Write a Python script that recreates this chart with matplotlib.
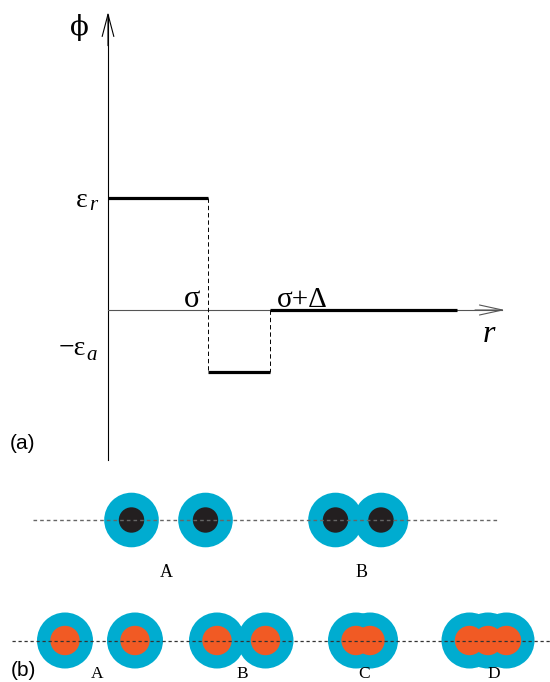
import matplotlib
matplotlib.use("Agg")
import matplotlib.pyplot as plt
from matplotlib.patches import Circle

# ---- data: step potential (panel a) ----
sigma = 1.0
delta = 0.62
eps_r = 1.0
eps_a = 0.55
r_end = 3.49          # end of drawn potential
r_axis_max = 3.97     # x-axis arrow tip
phi_axis_min = -1.34
phi_axis_max = 2.66

# ---- data: particle schematics (panel b), pixel units ----
row1_y = 520
row1_centers = [131.5, 205.5, 335.5, 381]
row1_outer, row1_inner = 27.3, 12.7
row1_labels = ["A", "B"]
row1_label_x = [166, 362]

row2_y = 640.5
row2_centers = [65, 135, 217, 265.5, 356, 370, 469.5, 488, 506.5]
row2_outer, row2_inner = 28, 14.7
row2_labels = ["A", "B", "C", "D"]
row2_label_x = [97, 242, 364, 494]

CYAN = "#00acd0"
BLACK = "#231f20"
ORANGE = "#f15a24"
SERIF = ["Liberation Serif", "DejaVu Serif"]
SANS = ["Liberation Sans", "DejaVu Sans"]

fig = plt.figure(figsize=(5.5, 6.82), dpi=100)

# pixel axes for schematic and labels
axp = fig.add_axes([0, 0, 1, 1])
axp.set_xlim(0, 550)
axp.set_ylim(682, 0)
axp.axis("off")

# data axes for panel (a)
axa = fig.add_axes([0, 0, 1, 1])
axa.set_xlim(-1.08, 4.42)
axa.set_ylim(-(682 - 310) / 112.0, 310 / 112.0)
axa.axis("off")
axa.patch.set_alpha(0)

# axes with open arrowheads
axa.plot([0, 0], [phi_axis_min, phi_axis_max - 0.03], color="black", lw=0.8)
axa.annotate("", xy=(0, phi_axis_max), xytext=(0, phi_axis_max - 0.3),
             arrowprops=dict(arrowstyle="->,head_length=1.6,head_width=0.42",
                             lw=0.8, color="black", mutation_scale=10,
                             shrinkA=0, shrinkB=0))
axa.plot([0, r_axis_max - 0.03], [0, 0], color="#555555", lw=0.8)
axa.annotate("", xy=(r_axis_max, 0), xytext=(r_axis_max - 0.3, 0),
             arrowprops=dict(arrowstyle="->,head_length=1.65,head_width=0.36",
                             lw=0.8, color="#555555", mutation_scale=10,
                             shrinkA=0, shrinkB=0))

# step potential
axa.plot([0, sigma], [eps_r, eps_r], color="black", lw=2.3, solid_capstyle="butt")
axa.plot([sigma, sigma + delta], [-eps_a, -eps_a], color="black", lw=2.3, solid_capstyle="butt")
axa.plot([sigma + delta, r_end], [0, 0], color="black", lw=2.3, solid_capstyle="butt")
axa.plot([sigma, sigma], [eps_r, -eps_a], color="black", lw=0.7, linestyle=(0, (4.5, 3)))
axa.plot([sigma + delta, sigma + delta], [0, -eps_a], color="black", lw=0.7, linestyle=(0, (4.5, 3)))

# labels panel (a)
axp.text(79, 35, "ϕ", fontsize=20, family=["DejaVu Serif"], ha="center", va="baseline")
axp.text(76, 207, "ε", fontsize=20, family=SERIF, ha="left", va="baseline")
axp.text(89, 210, "r", fontsize=15, family=SERIF, style="italic", ha="left", va="baseline")
axp.text(59, 355, "−ε", fontsize=20, family=SERIF, ha="left", va="baseline")
axp.text(86, 360, "a", fontsize=15, family=SERIF, style="italic", ha="left", va="baseline")
axp.text(192.5, 307, "σ", fontsize=22, family=SERIF, ha="center", va="baseline")
axp.text(277, 307, "σ+Δ", fontsize=21, family=SERIF, ha="left", va="baseline")
axp.text(489, 342, "r", fontsize=23, family=SERIF, style="italic", ha="center", va="baseline")
axp.text(10, 449, "(a)", fontsize=15, family=SANS, ha="left", va="baseline")
axp.text(11, 676, "(b)", fontsize=15, family=SANS, ha="left", va="baseline")

# panel (b) row 1
for cx in row1_centers:
    axp.add_patch(Circle((cx, row1_y), row1_outer, color=CYAN, lw=0, zorder=2))
for cx in row1_centers:
    axp.add_patch(Circle((cx, row1_y), row1_inner, color=BLACK, lw=0, zorder=3))
axp.plot([33, 497], [row1_y, row1_y], color="#666666", lw=1.0,
         linestyle=(0, (2.6, 2.2)), zorder=4)
for lab, lx in zip(row1_labels, row1_label_x):
    axp.text(lx, 577, lab, fontsize=13, family=SERIF, ha="center", va="baseline")

# panel (b) row 2
for cx in row2_centers:
    axp.add_patch(Circle((cx, row2_y), row2_outer, color=CYAN, lw=0, zorder=2))
for cx in row2_centers:
    axp.add_patch(Circle((cx, row2_y), row2_inner, color=ORANGE, lw=0, zorder=3))
axp.plot([12, 550], [row2_y, row2_y], color="#333333", lw=0.9,
         linestyle=(0, (2.6, 2.2)), zorder=4)
for lab, lx in zip(row2_labels, row2_label_x):
    axp.text(lx, 678, lab, fontsize=12.5, family=SERIF, ha="center", va="baseline")

fig.savefig("out.png", dpi=100)
